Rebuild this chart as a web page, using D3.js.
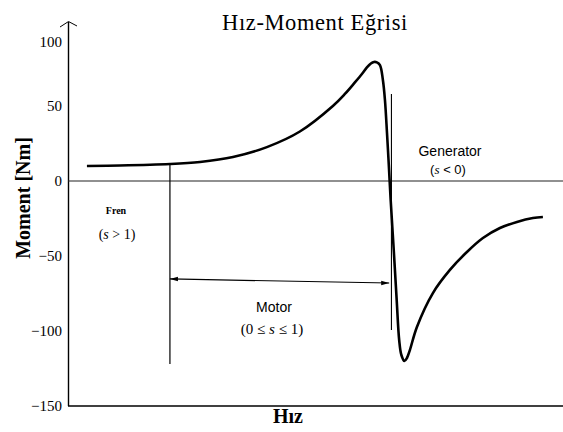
<!DOCTYPE html>
<html>
<head>
<meta charset="utf-8">
<script src="https://cdn.jsdelivr.net/npm/d3@7"></script>
<style>
  html, body { margin: 0; padding: 0; background: #ffffff; }
  svg { display: block; }
</style>
</head>
<body>
<svg id="chart" width="563" height="432"></svg>
<script>
// Torque–speed characteristic of an induction machine (speed in rpm, sync = 1500)
const speed = [-566, -341, 0, 205, 430, 661, 886, 1111, 1193, 1261, 1309, 1343, 1370, 1391,
  1411, 1432, 1452, 1466, 1480, 1493, 1505, 1526, 1546, 1563, 1578, 1599, 1616, 1636, 1684,
  1793, 1909, 2025, 2134, 2250, 2366, 2475, 2543];
const torque = [10, 10.3, 11.3, 12.7, 16, 22.6, 33, 50, 59.4, 68.4, 75, 80.1, 83.2, 84.4,
  84.1, 82, 70.3, 54.7, 32, 9.3, -12.7, -46, -79.3, -106, -116, -120, -118, -112.7, -97.3,
  -74.7, -59.3, -47.3, -38, -31.3, -27.3, -24.7, -24];
const yTicks = [-150, -100, -50, 0, 50, 100];

// Region boundaries: standstill (s = 1) and synchronous speed (s = 0)
const standstill = 0;
const synchronous = 1500;
const boundaryLeft = [11.3, -122];     // vertical marker at s = 1 (top, bottom torque)
const boundaryRight = [59.4, -99.3];   // vertical marker at s = 0
const arrowTorque = [-65.3, -68];      // motor span arrow (left end, right end)
const arrowEnd = 1495;

const svg = d3.select("#chart");
const x = d3.scaleLinear().domain([-695, 2680]).range([68, 563]);
const y = d3.scaleLinear().domain([-150, 0, 50, 100]).range([406, 181, 106, 42]);

const serif = "'Liberation Serif', 'Times New Roman', serif";
const sans = "'Liberation Sans', Arial, sans-serif";

// Title
svg.append("text")
  .attr("x", 315).attr("y", 30)
  .attr("text-anchor", "middle")
  .attr("font-family", serif).attr("font-size", 22.5)
  .attr("letter-spacing", 0.6)
  .text("Hız-Moment Eğrisi");

// Y axis labels (no tick marks)
const yAxis = d3.axisLeft(y).tickValues(yTicks).tickSize(0).tickPadding(6);
const gy = svg.append("g").attr("transform", "translate(68,0)").call(yAxis);
gy.select(".domain").remove();
gy.selectAll("text").attr("font-family", serif).attr("font-size", 15).attr("fill", "#000");

// Y axis line with open arrowhead
svg.append("line")
  .attr("x1", 68.5).attr("x2", 68.5).attr("y1", 22).attr("y2", y(-150))
  .attr("stroke", "#000").attr("stroke-width", 1.4);
svg.append("path")
  .attr("d", "M60,27 L68.5,21.5 L77,26")
  .attr("fill", "none").attr("stroke", "#000").attr("stroke-width", 1);

// Bottom axis line
svg.append("line")
  .attr("x1", 68).attr("x2", 563).attr("y1", y(-150)).attr("y2", y(-150))
  .attr("stroke", "#000").attr("stroke-width", 1.6);

// Zero torque line
svg.append("line")
  .attr("x1", 68).attr("x2", 563).attr("y1", y(0)).attr("y2", y(0))
  .attr("stroke", "#222").attr("stroke-width", 1.1);

// Region boundary markers
svg.append("line")
  .attr("x1", x(standstill)).attr("x2", x(standstill))
  .attr("y1", y(boundaryLeft[0])).attr("y2", y(boundaryLeft[1]))
  .attr("stroke", "#000").attr("stroke-width", 1.2);
svg.append("line")
  .attr("x1", x(synchronous) + 1.5).attr("x2", x(synchronous) + 1.5)
  .attr("y1", y(boundaryRight[0])).attr("y2", y(boundaryRight[1]))
  .attr("stroke", "#000").attr("stroke-width", 1.1);

// Motor span double arrow
const ax1 = x(standstill), ay1 = y(arrowTorque[0]);
const ax2 = x(arrowEnd), ay2 = y(arrowTorque[1]);
svg.append("line")
  .attr("x1", ax1).attr("y1", ay1).attr("x2", ax2).attr("y2", ay2)
  .attr("stroke", "#000").attr("stroke-width", 1.2);
svg.append("path")
  .attr("d", `M${ax1},${ay1} L${ax1 + 8},${ay1 - 2.2} L${ax1 + 8},${ay1 + 2.2} Z`)
  .attr("fill", "#000");
svg.append("path")
  .attr("d", `M${ax2},${ay2} L${ax2 - 8},${ay2 - 2.2} L${ax2 - 8},${ay2 + 2.2} Z`)
  .attr("fill", "#000");

// Torque curve
const pts = speed.map((s, i) => [s, torque[i]]);
const line = d3.line().x(d => x(d[0])).y(d => y(d[1])).curve(d3.curveCatmullRom.alpha(0.5));
svg.append("path")
  .datum(pts)
  .attr("d", line)
  .attr("fill", "none").attr("stroke", "#000").attr("stroke-width", 2.6)
  .attr("stroke-linejoin", "round");

// Region labels
function label(txt, cx, cy, size, family, weight) {
  svg.append("text")
    .attr("x", cx).attr("y", cy)
    .attr("text-anchor", "middle")
    .attr("font-family", family).attr("font-size", size)
    .attr("font-weight", weight || "normal")
    .text(txt);
}
label("Fren", 116, 214, 10, serif, "bold");
svg.append("text").attr("x", 117).attr("y", 239).attr("text-anchor", "middle")
  .attr("font-family", serif).attr("font-size", 14)
  .call(t => { t.append("tspan").text("("); t.append("tspan").attr("font-style", "italic").text("s"); t.append("tspan").text(" > 1)"); });

label("Motor", 274, 312, 14, sans);
svg.append("text").attr("x", 272).attr("y", 334).attr("text-anchor", "middle")
  .attr("font-family", serif).attr("font-size", 15)
  .call(t => { t.append("tspan").text("(0 ≤ "); t.append("tspan").attr("font-style", "italic").text("s"); t.append("tspan").text(" ≤ 1)"); });

label("Generator", 450, 156, 14, sans);
svg.append("text").attr("x", 448).attr("y", 174).attr("text-anchor", "middle")
  .attr("font-family", sans).attr("font-size", 13)
  .call(t => { t.append("tspan").text("("); t.append("tspan").attr("font-family", serif).attr("font-style", "italic").text("s"); t.append("tspan").text(" < 0)"); });

// Axis titles
svg.append("text")
  .attr("transform", "translate(30,198) rotate(-90)")
  .attr("text-anchor", "middle")
  .attr("font-family", serif).attr("font-size", 20).attr("font-weight", "bold")
  .text("Moment [Nm]");
svg.append("text")
  .attr("x", 288).attr("y", 423)
  .attr("text-anchor", "middle")
  .attr("font-family", serif).attr("font-size", 20).attr("font-weight", "bold")
  .text("Hız");
</script>
</body>
</html>
